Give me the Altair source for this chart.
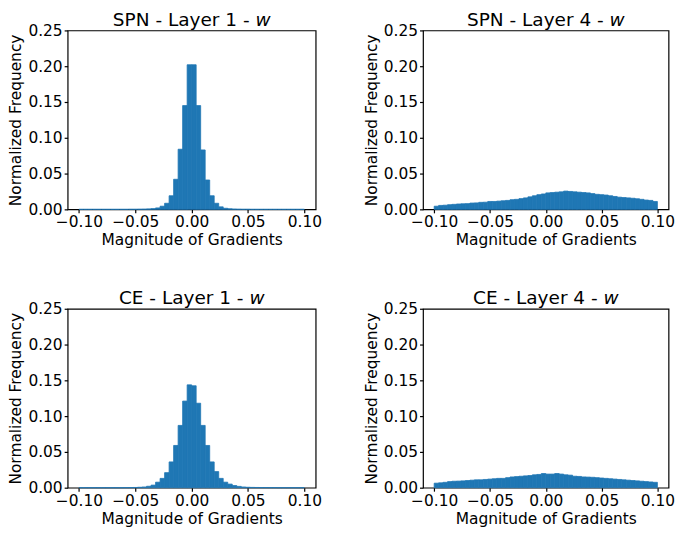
import altair as alt
import pandas as pd

FONT = "DejaVu Sans"
BLUE = "#1f77b4"

# histogram bin edges (-0.1 .. 0.1, 50 bins)
bin_edges = [round(-0.1 + 0.004 * i, 3) for i in range(51)]

x_ticks = [-0.10, -0.05, 0.00, 0.05, 0.10]
y_ticks = [0.00, 0.05, 0.10, 0.15, 0.20, 0.25]

titles_main = ["SPN - Layer 1 -", "SPN - Layer 4 -", "CE - Layer 1 -", "CE - Layer 4 -"]
title_italic = "w"

spn_l1 = [0, 0, 0, 0, 0, 0, 0, 0, 0, 0,
          0, 0.0001, 0.0001, 0.0002, 0.0003, 0.0006, 0.001, 0.002, 0.0044, 0.0085,
          0.019, 0.042, 0.084, 0.145, 0.202, 0.202, 0.145, 0.083, 0.041, 0.019,
          0.0085, 0.0035, 0.0015, 0.0008, 0.0004, 0.0002, 0.0001, 0.0001, 0, 0,
          0, 0, 0, 0, 0, 0, 0, 0, 0, 0]

spn_l4 = [0.0044, 0.0055, 0.0058, 0.0065, 0.007, 0.0075, 0.0078, 0.008, 0.0088, 0.009,
          0.0098, 0.010, 0.011, 0.011, 0.0115, 0.012, 0.0125, 0.0135, 0.014, 0.015,
          0.016, 0.0175, 0.019, 0.0205, 0.0215, 0.023, 0.0235, 0.024, 0.0245, 0.0255,
          0.025, 0.0245, 0.024, 0.0235, 0.023, 0.022, 0.021, 0.0205, 0.020, 0.019,
          0.018, 0.017, 0.0165, 0.016, 0.0155, 0.0148, 0.014, 0.013, 0.0125, 0.011]

ce_l1 = [0, 0, 0, 0, 0, 0, 0, 0, 0, 0,
         0.0001, 0.0002, 0.0003, 0.0006, 0.001, 0.002, 0.0036, 0.0077, 0.013, 0.021,
         0.036, 0.059, 0.087, 0.121, 0.1437, 0.1424, 0.118, 0.087, 0.059, 0.036,
         0.0225, 0.013, 0.0077, 0.005, 0.003, 0.0018, 0.001, 0.0006, 0.0004, 0.0003,
         0.0002, 0.0002, 0.0001, 0.0001, 0, 0, 0, 0, 0, 0]

ce_l4 = [0.0063, 0.0068, 0.0075, 0.0085, 0.009, 0.0092, 0.0095, 0.010, 0.0105, 0.011,
         0.011, 0.0115, 0.012, 0.0125, 0.013, 0.013, 0.014, 0.015, 0.0155, 0.016,
         0.0165, 0.017, 0.018, 0.0185, 0.0198, 0.019, 0.019, 0.0198, 0.019, 0.018,
         0.0175, 0.016, 0.0157, 0.015, 0.0148, 0.0145, 0.014, 0.0135, 0.013, 0.0125,
         0.012, 0.0115, 0.011, 0.0105, 0.010, 0.0095, 0.009, 0.0085, 0.008, 0.0075]

W_LEFT, W_RIGHT, H = 249.5, 247, 180
TITLE_SIZE = 18.6
LABEL_SIZE = 15.5

# DejaVu Sans advance widths (em) for title centring
_cw = {"S": 0.635, "P": 0.603, "N": 0.748, "C": 0.698, "E": 0.632, "L": 0.557,
       "a": 0.613, "y": 0.592, "e": 0.615, "r": 0.411, "1": 0.636, "4": 0.636,
       "-": 0.361, " ": 0.318, "w": 0.818}


def text_width(s):
    return sum(_cw.get(c, 0.6) for c in s) * TITLE_SIZE


def panel(main, values, W):
    df = pd.DataFrame({"start": bin_edges[:-1], "end": bin_edges[1:], "freq": values})
    bars = alt.Chart(df).mark_bar(color=BLUE, stroke=BLUE, strokeWidth=0.8).encode(
        x=alt.X("start:Q",
                scale=alt.Scale(domain=[-0.11, 0.11], nice=False, zero=False),
                axis=alt.Axis(values=x_ticks, format=".2f", title="Magnitude of Gradients",
                              labelExpr="replace(datum.label, '-', '\u2212')")),
        x2="end:Q",
        y=alt.Y("freq:Q",
                scale=alt.Scale(domain=[0, 0.25], nice=False),
                axis=alt.Axis(values=y_ticks, format=".2f", title="Normalized Frequency")),
        y2=alt.datum(0),
    )
    full = main + " " + title_italic
    total = text_width(full)
    split = W / 2 + total / 2 - text_width(title_italic)
    t_main = alt.Chart(pd.DataFrame({"t": [main]})).mark_text(
        align="right", baseline="alphabetic", fontSize=TITLE_SIZE, font=FONT, color="black"
    ).encode(text="t:N", x=alt.value(split - text_width(" ")), y=alt.value(-4.5))
    t_it = alt.Chart(pd.DataFrame({"t": [title_italic]})).mark_text(
        align="left", baseline="alphabetic", fontSize=TITLE_SIZE, font=FONT,
        fontStyle="italic", color="black"
    ).encode(text="t:N", x=alt.value(split), y=alt.value(-4.5))
    return alt.layer(bars, t_main, t_it).properties(width=W, height=H)


row1 = alt.hconcat(panel(titles_main[0], spn_l1, W_LEFT),
                   panel(titles_main[1], spn_l4, W_RIGHT), spacing=40.5)
row2 = alt.hconcat(panel(titles_main[2], ce_l1, W_LEFT),
                   panel(titles_main[3], ce_l4, W_RIGHT), spacing=40.5)

chart = alt.vconcat(row1, row2, spacing=39).properties(
    padding={"left": 0, "top": 0, "right": 0, "bottom": 0}
).configure_view(
    stroke="black", strokeWidth=1.2
).configure_axis(
    grid=False, domain=False,
    labelFont=FONT, titleFont=FONT, labelFontSize=LABEL_SIZE, titleFontSize=LABEL_SIZE,
    titleFontWeight="normal", labelColor="black", titleColor="black",
    tickColor="black", tickSize=3.5, tickWidth=1.2, labelPadding=2,
).configure_axisX(titlePadding=2.5, labelPadding=2.2).configure_axisY(titlePadding=4)

chart.save("out.html", embed_options={"renderer": "svg", "actions": False})
